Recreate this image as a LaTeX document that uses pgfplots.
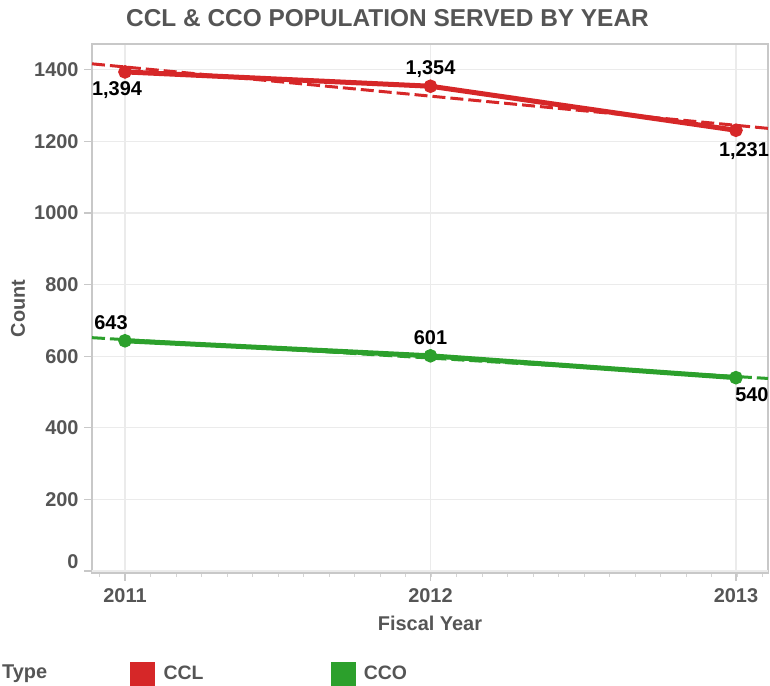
\documentclass[border=0pt]{standalone}
\usepackage{fontspec}
\setmainfont{Liberation Sans}
\usepackage{pgfplots}
\pgfplotsset{compat=1.18}
\definecolor{ccl}{HTML}{D62728}
\definecolor{cco}{HTML}{2CA02C}
\definecolor{txt}{HTML}{555555}
\definecolor{grd}{HTML}{EBEBEB}
\definecolor{axisgray}{HTML}{C8C8C8}
\definecolor{minorgray}{HTML}{D4D4D4}

% anc: 90 = label below the point, 270 = label above the point
\pgfplotstableread{
x y anc dx dy
2011 1394 90 -8 -4
2012 1354 270 0 3
2013 1231 90 8 -6
}\ccltab
\pgfplotstableread{
x y anc dx dy
2011 643 270 -14 5
2012 601 270 0 5
2013 540 90 16 -4
}\ccotab
\pgfplotstableread{
x y
2010.892 1416.6
2013.105 1236.3
}\ccltrend
\pgfplotstableread{
x y
2010.892 651.7
2013.105 537.8
}\ccotrend

\begin{document}
\begin{tikzpicture}[x=1bp,y=1bp]
\path[use as bounding box] (0,0) rectangle (770,686);
\begin{axis}[
  at={(92bp,113bp)}, anchor=south west,
  scale only axis, width=676bp, height=529bp,
  xmin=2010.892, xmax=2013.105, ymin=-5.6, ymax=1472,
  clip=false,
  axis line style={draw=axisgray, line width=1.2bp},
  tick pos=left, tick align=outside,
  xtick={2011,2012,2013}, ytick={200,400,...,1400},
  extra y ticks={0},
  extra y tick style={yticklabel style={yshift=9bp}},
  minor xtick={2010.91667,2011,...,2013.1},
  major tick length=8bp, minor tick length=4bp,
  every major tick/.append style={draw=axisgray, line width=1.2bp},
  every minor tick/.append style={draw=minorgray, line width=1bp},
  grid=major, major grid style={draw=grd, line width=1.2bp},
  /pgf/number format/assume math mode=true,
  /pgf/number format/1000 sep={},
  tick label style={font=\bfseries\fontsize{20}{22}\selectfont, text=txt},
  xticklabel style={yshift=-4bp},
  yticklabel style={xshift=-2bp},
  xlabel={Fiscal Year}, ylabel={Count},
  label style={font=\bfseries\fontsize{20}{22}\selectfont, text=txt},
  xlabel style={at={(axis description cs:0.5,0)}, anchor=center, yshift=-50bp},
  ylabel style={at={(axis description cs:-0.1095,0.5)}, anchor=center},
  legend style={draw=none, fill=none, at={(axis description cs:0.0562,-0.1904)}, anchor=west,
    legend columns=2, font=\bfseries\fontsize{19.5}{22}\selectfont, text=txt,
    /tikz/every odd column/.append style={column sep=7bp},
    /tikz/every even column/.append style={column sep=125bp}, inner sep=0pt},
  legend cell align=left,
]
\addplot[forget plot, ccl, line width=3bp, dash pattern=on 13bp off 5bp] table[x=x,y=y] {\ccltrend};
\addplot[forget plot, cco, line width=3bp, dash pattern=on 13bp off 5bp] table[x=x,y=y] {\ccotrend};
\addplot[forget plot, ccl, line width=5bp, mark=*, mark size=4.2bp, mark options={solid},
  point meta=y,
  nodes near coords={\pgfmathprintnumber[1000 sep={,}]{\pgfplotspointmeta}},
  visualization depends on={\thisrow{dx} \as \dx},
  visualization depends on={\thisrow{dy} \as \dy},
  visualization depends on={\thisrow{anc} \as \anc},
  every node near coord/.append style={anchor=\anc, xshift=\dx bp, yshift=\dy bp, text=black,
    font=\bfseries\fontsize{20}{22}\selectfont}
] table[x=x,y=y] {\ccltab};
\addplot[forget plot, cco, line width=5bp, mark=*, mark size=4.2bp, mark options={solid},
  point meta=y,
  nodes near coords={\pgfmathprintnumber[1000 sep={,}]{\pgfplotspointmeta}},
  visualization depends on={\thisrow{dx} \as \dx},
  visualization depends on={\thisrow{dy} \as \dy},
  visualization depends on={\thisrow{anc} \as \anc},
  every node near coord/.append style={anchor=\anc, xshift=\dx bp, yshift=\dy bp, text=black,
    font=\bfseries\fontsize{20}{22}\selectfont}
] table[x=x,y=y] {\ccotab};
\addlegendimage{legend image code/.code={\fill[ccl] (0bp,-12bp) rectangle (24bp,12bp);}}
\addlegendentry{CCL}
\addlegendimage{legend image code/.code={\fill[cco] (0bp,-12bp) rectangle (24bp,12bp);}}
\addlegendentry{CCO}
\end{axis}
\node[anchor=base, inner sep=0pt, font=\bfseries\fontsize{24.5}{28}\selectfont, text=txt] at (387.5,659.3) {CCL \& CCO POPULATION SERVED BY YEAR};
\node[anchor=west, inner sep=0pt, font=\bfseries\fontsize{20}{22}\selectfont, text=txt] at (2,12.3) {Type};
\end{tikzpicture}
\end{document}
